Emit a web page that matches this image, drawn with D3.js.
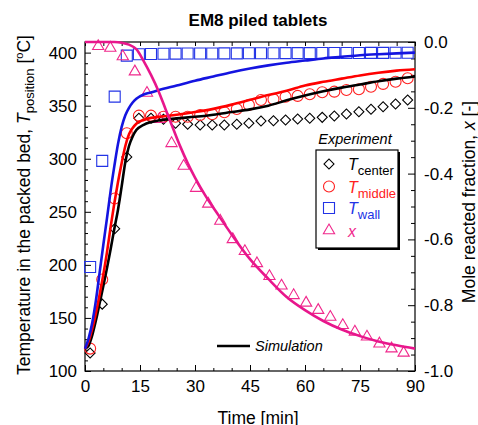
<html>
<meta charset="utf-8">
<head>
<script src="https://d3js.org/d3.v7.min.js"></script>
<style>
  body { margin: 0; background: #fff; }
  text { font-family: "Liberation Sans", Arial, sans-serif; }
</style>
</head>
<body>
<div id="chart"></div>
<script>
// measured data (time in min)
var expTime = [1.4, 4.7, 8.1, 11.4, 14.7, 18.0, 21.4, 24.7, 28.0, 31.4, 34.7, 38.0, 41.4, 44.7,
               48.0, 51.4, 54.7, 58.0, 61.3, 64.7, 68.0, 71.3, 74.7, 78.0, 81.3, 84.7, 88.0];
var tCenter = [117, 163, 234, 301.6, 338.1, 338.1, 337.2, 333.4, 332.5, 331.8, 331.8, 331.8, 332.5, 333.4,
               335.6, 335.8, 336.5, 337.5, 338.1, 339, 340.3, 342.2, 344.3, 346.6, 349, 351.6, 355.4];
var tMiddle = [121.1, 186.2, 262.6, 324, 340.6, 340.6, 339.6, 339.6, 339.6, 341.2, 341.9, 343.8, 346.9, 350.7,
               355.4, 356, 358.5, 359.2, 360.8, 362.6, 363.2, 364.8, 365.5, 367.9, 370.5, 372.6, 375.8];
var tWall = [198, 298, 358.5, 397.2, 398.5, 398.7, 398.9, 399, 399.1, 399.2, 399.2, 399.3, 399.3, 399.4,
             399.4, 399.4, 399.5, 399.5, 399.5, 399.6, 399.6, 399.7, 399.7, 399.8, 399.8, 399.9, 399.9];
var xTime = [3.6, 6.9, 10.3, 13.6, 16.9, 20.3, 23.6, 26.9, 30.3, 33.6, 36.9, 40.3, 43.6,
             46.9, 50.3, 53.6, 56.9, 60.3, 63.6, 66.9, 70.3, 73.6, 76.9, 80.3, 83.6, 86.9];
var xExp = [-0.013, -0.018, -0.044, -0.090, -0.155, -0.235, -0.308, -0.377, -0.444, -0.492, -0.544, -0.600, -0.636,
            -0.673, -0.712, -0.741, -0.770, -0.793, -0.815, -0.836, -0.861, -0.881, -0.896, -0.917, -0.932, -0.945];

// simulation
var simTime = [0, 1, 2, 3, 4, 5, 6, 7, 8, 9, 10, 11, 12, 13, 14, 16, 18, 20, 25, 30, 35, 40, 45, 50, 55, 60, 65, 70, 75, 80, 85, 90];
var simCenter = [121, 124, 134, 148, 164, 180, 197, 215, 234, 252, 274, 297, 312, 321, 327, 332, 334.5, 336, 338, 339.5,
                 341.5, 344, 346.5, 350, 355, 359.5, 363.5, 367, 370, 373, 375.5, 377.5];
var simMiddle = [121, 128, 140, 155, 172, 191, 212, 236, 258, 278, 296, 312, 323, 329, 333, 336.5, 338.5, 339.5, 341.5, 344,
                 347, 351, 355.5, 360, 364, 369, 372.5, 375.5, 378.5, 381, 383, 384.3];
var simWall = [121, 131, 146, 167, 193, 219, 244, 270, 293, 314, 330, 341, 348, 353, 356.5, 360.5, 362.5, 364.5, 369, 373.5,
               377.5, 381.5, 385, 388, 390.5, 392.5, 394.5, 396, 397.5, 398.5, 399.3, 400];
var simXTime = [0, 5, 8, 10, 12, 14, 16, 18, 20, 22, 24, 26, 28, 30, 33, 36, 40, 45, 50, 55, 60, 65, 70, 75, 80, 85, 90];
var simX = [0, 0, 0, -0.002, -0.008, -0.022, -0.058, -0.1, -0.148, -0.205, -0.262, -0.318, -0.368, -0.412, -0.47, -0.52,
            -0.585, -0.66, -0.72, -0.775, -0.815, -0.848, -0.874, -0.894, -0.91, -0.922, -0.932];

var timeTicks = [0, 15, 30, 45, 60, 75, 90];
var tempTicks = [100, 150, 200, 250, 300, 350, 400];
var fracTicks = [-1.0, -0.8, -0.6, -0.4, -0.2, 0.0];

var W = 478, H = 425;
var pLeft = 85, pRight = 415, pTop = 42, pBottom = 371;

var svg = d3.select("#chart").append("svg")
    .attr("width", W).attr("height", H);

var x = d3.scaleLinear().domain([0, 90]).range([pLeft, pRight]);
var yL = d3.scaleLinear().domain([100, 410]).range([pBottom, pTop]);
var yR = d3.scaleLinear().domain([-1, 0]).range([pBottom, pTop]);

var black = "#000", red = "#ff0000", blue = "#1414e0", pink = "#e8168c";

// title
svg.append("text").attr("x", 258).attr("y", 26)
    .attr("text-anchor", "middle").style("font-size", "17px").style("font-weight", "bold")
    .text("EM8 piled tablets");

// axes (ticks pointing inward)
function styleAxis(g) {
    g.select(".domain").remove();
    g.selectAll("line").attr("stroke", "#000").attr("stroke-width", 1);
    g.selectAll("text").style("font-size", "17px").attr("fill", "#000")
        .style("font-family", '"Liberation Sans", Arial, sans-serif');
}
function minor(step, a, b, majors) {
    return d3.range(a, b + step / 2, step).filter(function(v) {
        return !majors.some(function(m) { return Math.abs(m - v) < 1e-6; });
    });
}

svg.append("g").attr("transform", "translate(" + pLeft + ",0)")
    .call(d3.axisLeft(yL).tickValues(tempTicks).tickSize(-6).tickPadding(8)).call(styleAxis);
svg.append("g").attr("transform", "translate(" + pLeft + ",0)")
    .call(d3.axisLeft(yL).tickValues(minor(10, 100, 410, tempTicks)).tickSize(-3).tickFormat("")).call(styleAxis);

svg.append("g").attr("transform", "translate(" + pRight + ",0)")
    .call(d3.axisRight(yR).tickValues(fracTicks).tickSize(-7).tickPadding(9)
        .tickFormat(function(d) { return d.toFixed(1); })).call(styleAxis);
svg.append("g").attr("transform", "translate(" + pRight + ",0)")
    .call(d3.axisRight(yR).tickValues(minor(0.05, -1, 0, fracTicks)).tickSize(-4).tickFormat("")).call(styleAxis);

svg.append("g").attr("transform", "translate(0," + pBottom + ")")
    .call(d3.axisBottom(x).tickValues(timeTicks).tickSize(-6).tickPadding(9)).call(styleAxis);
svg.append("g").attr("transform", "translate(0," + pBottom + ")")
    .call(d3.axisBottom(x).tickValues(minor(5, 0, 90, timeTicks)).tickSize(-3).tickFormat("")).call(styleAxis);
svg.append("g").attr("transform", "translate(0," + pTop + ")")
    .call(d3.axisTop(x).tickValues(d3.range(0, 91, 5)).tickSize(-4).tickFormat("")).call(styleAxis);

// frame
svg.append("rect").attr("x", pLeft).attr("y", pTop)
    .attr("width", pRight - pLeft).attr("height", pBottom - pTop)
    .attr("fill", "none").attr("stroke", "#000").attr("stroke-width", 1.2);

// axis titles
var yt = svg.append("text").attr("transform", "translate(30,205) rotate(-90)")
    .attr("text-anchor", "middle").style("font-size", "17.5px");
yt.append("tspan").text("Temperature in the packed bed, ");
yt.append("tspan").style("font-style", "italic").text("T");
yt.append("tspan").attr("dy", 4).style("font-size", "13px").text("position");
yt.append("tspan").attr("dy", -4).text(" [");
yt.append("tspan").attr("dy", -7).style("font-size", "11px").text("o");
yt.append("tspan").attr("dy", 7).text("C]");

var rt = svg.append("text").attr("transform", "translate(475,202) rotate(-90)")
    .attr("text-anchor", "middle").style("font-size", "17.5px");
rt.append("tspan").text("Mole reacted fraction, ");
rt.append("tspan").style("font-style", "italic").text("x");
rt.append("tspan").text(" [-]");

svg.append("text").attr("x", 258).attr("y", 424).attr("text-anchor", "middle")
    .style("font-size", "17.5px").text("Time [min]");

// markers
var sym = {
    diamond: d3.symbol().type(d3.symbolSquare).size(50),
    circle: d3.symbol().type(d3.symbolCircle).size(95),
    square: d3.symbol().type(d3.symbolSquare).size(121),
    triangle: d3.symbol().type(d3.symbolTriangle).size(55)
};

function markers(times, vals, yScale, shape, color, rot) {
    svg.append("g").selectAll("path")
        .data(times.map(function(t, i) { return [t, vals[i]]; }))
        .enter().append("path")
        .attr("d", sym[shape])
        .attr("transform", function(d) {
            return "translate(" + x(d[0]) + "," + yScale(d[1]) + ")" + (rot ? " rotate(45)" : "");
        })
        .attr("fill", "none").attr("stroke", color).attr("stroke-width", 1.1);
}
markers(expTime, tWall, yL, "square", "#2233e6", false);
markers(expTime, tCenter, yL, "diamond", black, true);
markers(expTime, tMiddle, yL, "circle", "#ff2020", false);
markers(xTime, xExp, yR, "triangle", "#f0288c", false);

// simulation lines
function simLine(times, vals, yScale, color) {
    var line = d3.line()
        .x(function(d) { return x(d[0]); })
        .y(function(d) { return yScale(d[1]); })
        .curve(d3.curveMonotoneX);
    svg.append("path")
        .datum(times.map(function(t, i) { return [t, vals[i]]; }))
        .attr("d", line)
        .attr("fill", "none").attr("stroke", color).attr("stroke-width", 2.6);
}
simLine(simTime, simCenter, yL, black);
simLine(simTime, simMiddle, yL, red);
simLine(simTime, simWall, yL, blue);
simLine(simXTime, simX, yR, pink);

// legend
svg.append("text").attr("x", 355).attr("y", 144).attr("text-anchor", "middle")
    .style("font-size", "14.5px").style("font-style", "italic").text("Experiment");
svg.append("rect").attr("x", 318).attr("y", 152).attr("width", 82).attr("height", 98).attr("fill", "#000");
svg.append("rect").attr("x", 316).attr("y", 150).attr("width", 82).attr("height", 98)
    .attr("fill", "#fff").attr("stroke", "#000").attr("stroke-width", 1.2);

var legItems = [
    {shape: "diamond", color: black, label: "T", sub: "center", rot: true},
    {shape: "circle", color: "#ff2020", label: "T", sub: "middle"},
    {shape: "square", color: "#2233e6", label: "T", sub: "wall"},
    {shape: "triangle", color: "#f0288c", label: "x", sub: ""}
];
var legY = [164, 186.5, 208, 230.5];
legItems.forEach(function(d, i) {
    svg.append("path").attr("d", sym[d.shape])
        .attr("transform", "translate(329," + legY[i] + ")" + (d.rot ? " rotate(45)" : ""))
        .attr("fill", "none").attr("stroke", d.color).attr("stroke-width", 1.1);
    var t = svg.append("text").attr("x", 348).attr("y", legY[i] + 6).attr("fill", d.color);
    t.append("tspan").style("font-style", "italic").style("font-size", "16px").text(d.label);
    if (d.sub) t.append("tspan").attr("dy", 5).style("font-size", "13px").text(d.sub);
});

svg.append("line").attr("x1", x(36)).attr("x2", x(45)).attr("y1", 346).attr("y2", 346)
    .attr("stroke", black).attr("stroke-width", 2.6);
svg.append("text").attr("x", 255).attr("y", 351)
    .style("font-size", "14.5px").style("font-style", "italic").text("Simulation");
</script>
</body>
</html>
